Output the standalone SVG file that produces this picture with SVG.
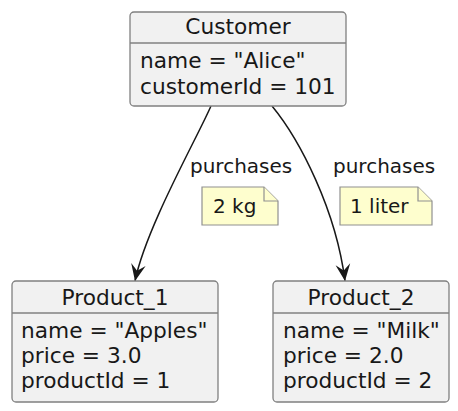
<svg xmlns="http://www.w3.org/2000/svg" width="458" height="411" viewBox="0 0 458 411">
<style>
.box{fill:#F1F1F1;stroke:#808080;stroke-width:1.3}
.sep{stroke:#808080;stroke-width:1.3}
.t{font-family:"DejaVu Sans",sans-serif;font-size:21.7px;fill:#181818}
.c{text-anchor:middle}
.lbl{font-family:"DejaVu Sans",sans-serif;font-size:20px;fill:#181818}
.note{fill:#FEFECE;stroke:#909090;stroke-width:1.2}
.edge{fill:none;stroke:#181818;stroke-width:1.5}
</style>
<defs>
<marker id="ah" markerUnits="userSpaceOnUse" markerWidth="20" markerHeight="20" refX="0" refY="0" viewBox="-17 -9 19 18" orient="auto">
<path d="M0,0 L-16,-7 L-10,0 L-16,7 Z" fill="#181818"/>
</marker>
</defs>
<g id="connectors">
<path class="edge" d="M211,106 C196,140 146,228 135,281" marker-end="url(#ah)"/>
<path class="edge" d="M272,106 C300,140 336,210 345,281" marker-end="url(#ah)"/>
<text class="lbl" x="190" y="173">purchases</text>
<text class="lbl" x="333" y="173">purchases</text>
</g>
<g id="note1">
<path class="note" d="M202,187 L264,187 L278,201 L278,225 L202,225 Z"/>
<path class="note" d="M264,187 L264,201 L278,201"/>
<text class="lbl" x="213" y="213">2 kg</text>
</g>
<g id="note2">
<path class="note" d="M340,187 L418,187 L432,201 L432,225 L340,225 Z"/>
<path class="note" d="M418,187 L418,201 L432,201"/>
<text class="lbl" x="350" y="213">1 liter</text>
</g>
<g id="Customer">
<rect class="box" x="130" y="12" width="216" height="94" rx="4"/>
<line class="sep" x1="130" y1="43" x2="346" y2="43"/>
<text class="t c" x="238" y="34">Customer</text>
<text class="t" x="140" y="68">name = "Alice"</text>
<text class="t" x="140" y="94">customerId = 101</text>
</g>
<g id="Product_1">
<rect class="box" x="12" y="281" width="206" height="121" rx="4"/>
<line class="sep" x1="12" y1="313" x2="218" y2="313"/>
<text class="t c" x="115" y="305">Product_1</text>
<text class="t" x="21" y="338">name = "Apples"</text>
<text class="t" x="21" y="363">price = 3.0</text>
<text class="t" x="21" y="388">productId = 1</text>
</g>
<g id="Product_2">
<rect class="box" x="273" y="281" width="176" height="121" rx="4"/>
<line class="sep" x1="273" y1="313" x2="449" y2="313"/>
<text class="t c" x="361" y="305">Product_2</text>
<text class="t" x="283" y="338">name = "Milk"</text>
<text class="t" x="283" y="363">price = 2.0</text>
<text class="t" x="283" y="388">productId = 2</text>
</g>
</svg>
